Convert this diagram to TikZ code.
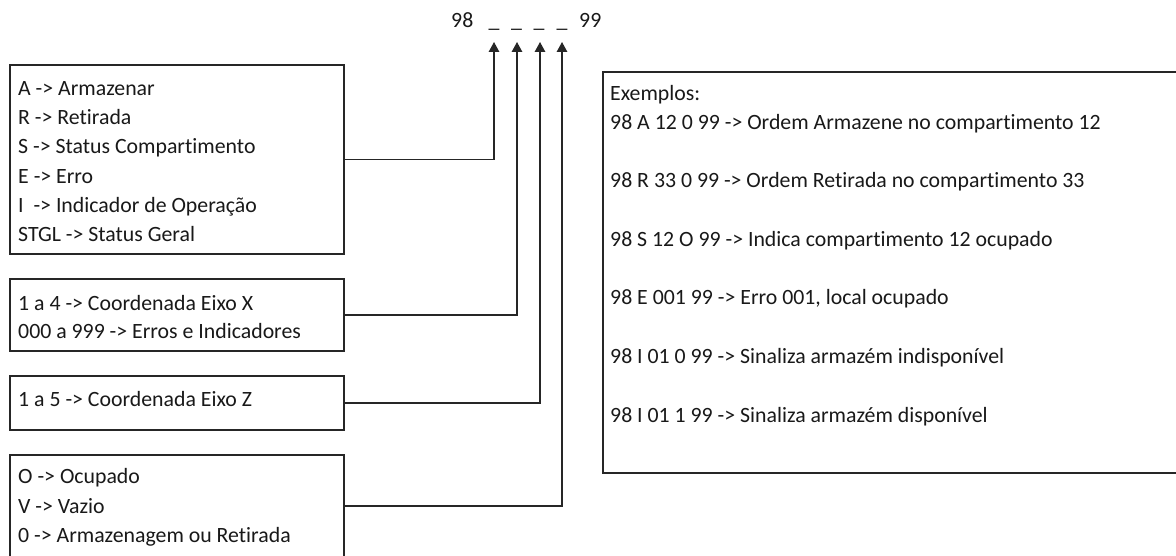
\documentclass[tikz,border=0pt]{standalone}
\usepackage{fontspec}
\setmainfont{Carlito}[Ligatures={NoCommon}]
\usetikzlibrary{arrows.meta}
\begin{document}
\begin{tikzpicture}[x=1pt,y=-1pt,
  box/.style={draw=black!85, line width=1.4pt, rectangle, inner sep=0pt, outer sep=0pt, anchor=north west},
  txt/.style={anchor=base west, inner sep=0pt, font=\fontsize{21.8}{26}\selectfont, text=black!90},
  conn/.style={draw=black!85, line width=1.4pt},
  arr/.style={conn, -{Triangle[length=10pt,width=10.5pt]}}]
\clip (0,0) rectangle (1176,556);
\fill[white] (0,0) rectangle (1176,556);
% top code
\node[txt] (n98) at (451,27.7) {98};
\node[txt, anchor=base] (u1) at (494,27.7) {\_};
\node[txt, anchor=base] (u2) at (516.5,27.7) {\_};
\node[txt, anchor=base] (u3) at (539,27.7) {\_};
\node[txt, anchor=base] (u4) at (562,27.7) {\_};
\node[txt] (n99) at (579,27.7) {99};
\coordinate (t1) at (494,42);
\coordinate (t2) at (517,42);
\coordinate (t3) at (540,42);
\coordinate (t4) at (562,42);
% boxes
\node[box, minimum width=334pt, minimum height=189pt] (b1) at (10,65) {};
\node[box, minimum width=334pt, minimum height=72pt] (b2) at (10,279) {};
\node[box, minimum width=334pt, minimum height=54pt] (b3) at (10,376) {};
\node[box, minimum width=334pt, minimum height=102pt] (b4) at (10,455) {};
\node[box, minimum width=590pt, minimum height=401pt] (b5) at (603,72) {};
% box 1 text
\node[txt] (a1) at (18,95.5) {A -> Armazenar};
\node[txt] (a2) at (18,124.7) {R -> Retirada};
\node[txt] (a3) at (18,153.9) {S -> Status Compartimento};
\node[txt] (a4) at (18,183.1) {E -> Erro};
\node[txt] (a5) at (18,212.3) {I\ \ -> Indicador de Operação};
\node[txt] (a6) at (18,241.5) {STGL -> Status Geral};
% box 2 text
\node[txt] (c1) at (18,310) {1 a 4 -> Coordenada Eixo X};
\node[txt] (c2) at (18,338) {000 a 999 -> Erros e Indicadores};
% box 3 text
\node[txt] (d1) at (18,406) {1 a 5 -> Coordenada Eixo Z};
% box 4 text
\node[txt] (e1) at (18,483) {O -> Ocupado};
\node[txt] (e2) at (18,513) {V -> Vazio};
\node[txt] (e3) at (18,542) {0 -> Armazenagem ou Retirada};
% examples
\node[txt] (x0) at (610,101) {Exemplos:};
\node[txt] (x1) at (610,129.5) {98 A 12 0 99 -> Ordem Armazene no compartimento 12};
\node[txt] (x2) at (610,188) {98 R 33 0 99 -> Ordem Retirada no compartimento 33};
\node[txt] (x3) at (610,246.5) {98 S 12 O 99 -> Indica compartimento 12 ocupado};
\node[txt] (x4) at (610,305) {98 E 001 99 -> Erro 001, local ocupado};
\node[txt] (x5) at (610,363.5) {98 I 01 0 99 -> Sinaliza armazém indisponível};
\node[txt] (x6) at (610,422) {98 I 01 1 99 -> Sinaliza armazém disponível};
% connectors
\draw[arr] (b1.east) -| (t1);
\draw[arr] (b2.east) -| (t2);
\draw[arr] (b3.east) -| (t3);
\draw[arr] (b4.east) -| (t4);
\end{tikzpicture}
\end{document}
